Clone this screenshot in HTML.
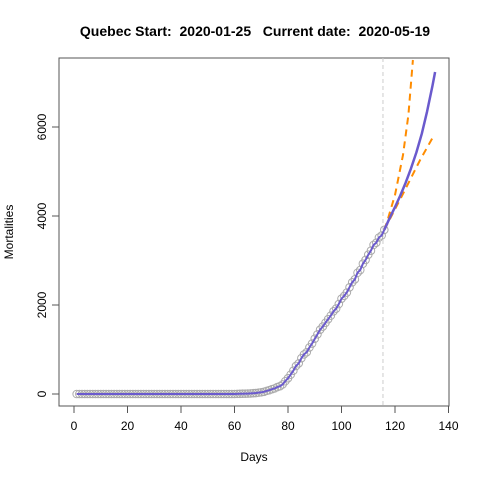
<!DOCTYPE html>
<html><head><meta charset="utf-8"><style>
html,body{margin:0;padding:0;background:#fff;}
svg{display:block;font-family:"Liberation Sans",Arial,sans-serif;}
</style></head><body>
<svg id="chart" width="480" height="480" viewBox="0 0 480 480">
<text x="255" y="36" text-anchor="middle" font-size="14" font-weight="bold" style="white-space:pre" xml:space="preserve">Quebec Start:  2020-01-25   Current date:  2020-05-19</text>
<rect x="59" y="58" width="390" height="348" fill="none" stroke="#555" stroke-width="1"/>
<g id="axes"></g>
<g id="marks"></g>
<text x="254" y="461" text-anchor="middle" font-size="12">Days</text>
<text x="0" y="0" transform="translate(13,232) rotate(-90)" text-anchor="middle" font-size="12">Mortalities</text>
</svg>
<script>
const xTicks=[0,20,40,60,80,100,120,140];
const yTicks=[0,2000,4000,6000];
const obsDays=[];for(let d=1;d<=116;d++)obsDays.push(d);
const obsVals=[0,0,0,0,0,0,0,0,0,0,0,0,0,0,0,0,0,0,0,0,0,0,0,0,0,0,0,0,0,0,0,0,0,0,0,0,0,0,0,0,0,0,0,0,0,0,0,0,0,0,0,0,0,0,0,0,0,0,0,0,
3,4,6,8,10,13,18,22,31,39,50,70,86,108,126,156,175,216,289,355,435,525,630,688,805,890,939,1046,1134,1243,1340,1446,1515,1599,1682,1761,1859,1920,2022,2141,2205,2280,2398,2510,2577,2725,2786,2928,3013,3131,3220,3351,3401,3517,3562,3690];
const fitDays=[116,118,120,122,124,126,128,130,132,134,135];
const fitVals=[3690,3950,4200,4460,4750,5070,5430,5850,6350,6920,7236];
const upDays=[116,117,120,123,125,126.7];
const upVals=[3690,3865,4472,5371,6270,7506];
const loDays=[116,118,123,129.3,134.2];
const loVals=[3690,3920,4500,5250,5775];
const cutDay=115.5;
const X=d=>74+2.675*d, Y=v=>394-0.0445*v;
const NS="http://www.w3.org/2000/svg";
const axes=document.getElementById('axes'),marks=document.getElementById('marks');
function mk(tag,at,parent){const e=document.createElementNS(NS,tag);for(const k in at)e.setAttribute(k,at[k]);parent.appendChild(e);return e;}
xTicks.forEach(t=>{
 const l=mk('line',{x1:X(t),x2:X(t),y1:406,y2:413,stroke:'#555'},axes);
 
 
 const tx=mk('text',{x:X(t),y:430,'text-anchor':'middle','font-size':12},axes);tx.textContent=t;
 
 
});
yTicks.forEach(t=>{
 const l=mk('line',{x1:52,x2:59,y1:Y(t),y2:Y(t),stroke:'#555'},axes);
 
 
 const tx=mk('text',{x:0,y:0,transform:`translate(46,${Y(t)}) rotate(-90)`,'text-anchor':'middle','font-size':12},axes);tx.textContent=t;
 
 
});
const vl=mk('line',{x1:X(cutDay),x2:X(cutDay),y1:58,y2:406,stroke:'#ccc','stroke-dasharray':'4,3'},marks);


obsDays.forEach((d,i)=>{
 const c=mk('circle',{cx:X(d),cy:Y(obsVals[i]),r:3.8,fill:'none',stroke:'#aaa','stroke-width':1},marks);
 
 
});
const pts=(ds,vs)=>ds.map((d,i)=>X(d).toFixed(1)+','+Y(vs[i]).toFixed(1)).join(' ');
const od=mk('polyline',{points:pts(obsDays,obsVals),fill:'none',stroke:'#ff8c00','stroke-width':1.5,'stroke-dasharray':'5,4'},marks);


const ob=mk('polyline',{points:pts(obsDays,obsVals),fill:'none',stroke:'#6a5acd','stroke-width':2},marks);


const up=mk('polyline',{points:pts(upDays,upVals),fill:'none',stroke:'#ff8c00','stroke-width':2,'stroke-dasharray':'7,5','stroke-linejoin':'round'},marks);


const lo=mk('polyline',{points:pts(loDays,loVals),fill:'none',stroke:'#ff8c00','stroke-width':2,'stroke-dasharray':'7,5','stroke-linejoin':'round'},marks);


const fp=mk('polyline',{points:pts(fitDays,fitVals),fill:'none',stroke:'#6a5acd','stroke-width':2.5,'stroke-linejoin':'round'},marks);


</script>
</body></html>
